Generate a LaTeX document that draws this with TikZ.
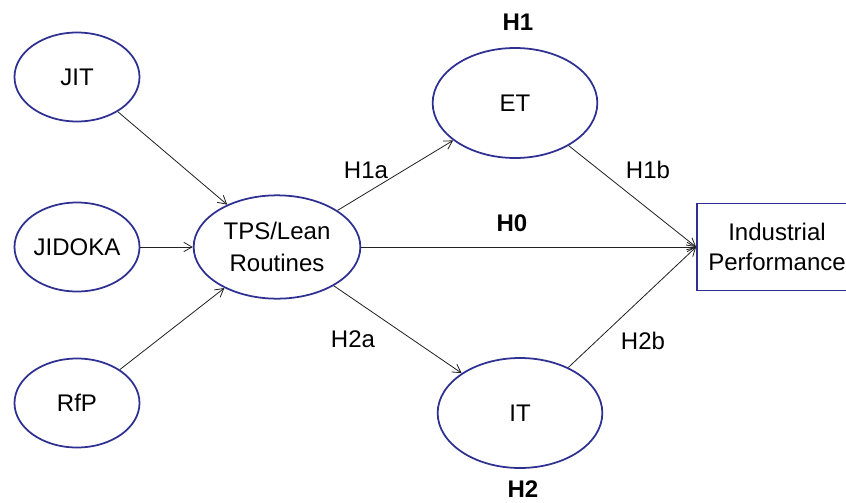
\documentclass[tikz,border=0pt]{standalone}
\usepackage{fontspec}
\setmainfont{Liberation Sans}
\usetikzlibrary{shapes.geometric, arrows.meta}
\definecolor{ovalblue}{RGB}{46,49,146}
\definecolor{linkgray}{RGB}{35,35,35}

\begin{document}
\begin{tikzpicture}[x=0.03cm, y=-0.03cm, % pixel-like units, origin top left
  every node/.style={font=\fontsize{20.5}{25}\selectfont},
  construct/.style={ellipse, draw=ovalblue, line width=1.5pt, inner sep=0pt, align=center},
  smallconstruct/.style={construct, minimum width=3.75cm, minimum height=2.67cm},
  bigconstruct/.style={construct, minimum width=4.94cm, minimum height=3.3cm},
  outcome/.style={rectangle, draw=ovalblue, line width=1.5pt, inner sep=0pt, align=center,
    minimum width=4.8cm, minimum height=2.61cm},
  link/.style={-{Straight Barb[length=7pt,width=8pt]}, line width=0.7pt, linkgray},
  hyp/.style={font=\fontsize{20.5}{25}\selectfont\bfseries}]

\useasboundingbox (0,0) rectangle (846,502);

\node[smallconstruct] (jit) at (77,77) {JIT};
\node[smallconstruct] (jidoka) at (77,247) {JIDOKA};
\node[smallconstruct] (rfp) at (77,403) {RfP};
\node[construct, minimum width=5.0cm, minimum height=3.1cm, font=\fontsize{20.5}{27}\selectfont] (tps) at (277,247) {TPS/Lean\\Routines};
\node[bigconstruct] (et) at (515,103) {ET};
\node[bigconstruct] (it) at (520,413) {IT};
\node[outcome] (perf) at (777,247) {Industrial\\Performance};

\node[hyp] (h1) at (518,22) {H1};
\node[hyp] (h0) at (512,223) {H0};
\node[hyp] (h2) at (523,489) {H2};
\node (h1a) at (366,170) {H1a};
\node (h1b) at (648,170) {H1b};
\node (h2a) at (353,339) {H2a};
\node (h2b) at (643,341) {H2b};

\draw[link] (jit) -- (tps);
\draw[link] (jidoka) -- (tps);
\draw[link] (rfp) -- (tps);
\draw[link] (tps) -- (et);
\draw[link] (tps.east) -- (perf.west);
\draw[link] (tps) -- (it);
\draw[link] (et) -- (perf.west);
\draw[link] (it) -- (perf.west);

\end{tikzpicture}
\end{document}
